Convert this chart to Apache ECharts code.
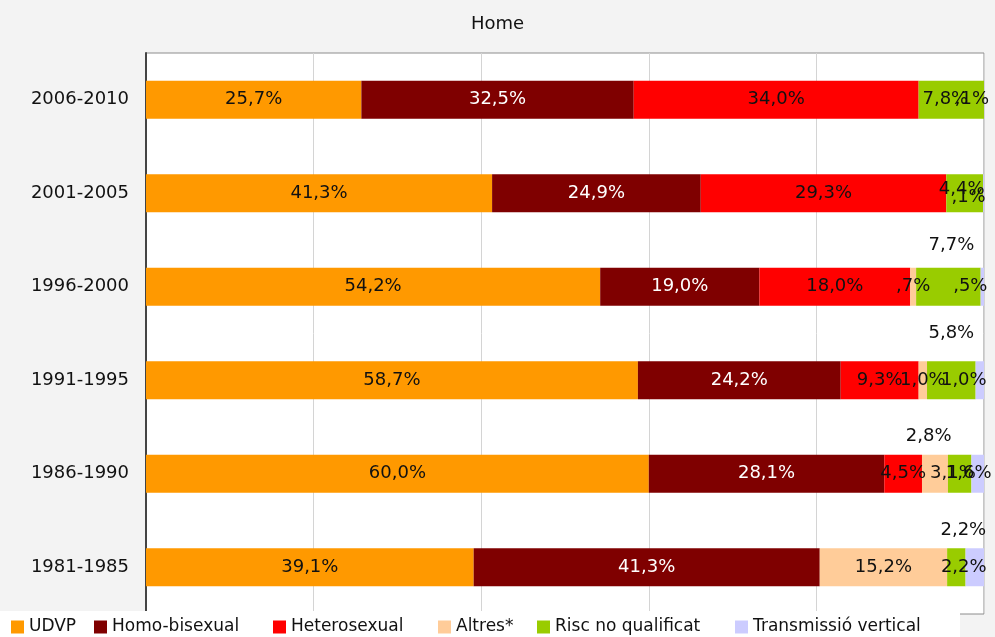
<!DOCTYPE html>
<html>
<head>
<meta charset="utf-8">
<script src="https://cdn.jsdelivr.net/npm/echarts@6/dist/echarts.min.js"></script>
<style>
  html, body { margin: 0; padding: 0; background: #f3f3f3; }
  #chart { width: 995px; height: 637px; }
</style>
</head>
<body>
<div id="chart"></div>
<script>
const categories = ["2006-2010", "2001-2005", "1996-2000", "1991-1995", "1986-1990", "1981-1985"];
const seriesNames = ["UDVP", "Homo-bisexual", "Heterosexual", "Altres*", "Risc no qualificat", "Transmissió vertical"];

const udvp = [25.7, 41.3, 54.2, 58.7, 60.0, 39.1];
const homoBisexual = [32.5, 24.9, 19.0, 24.2, 28.1, 41.3];
const heterosexual = [34.0, 29.3, 18.0, 9.3, 4.5, 0];
const altres = [0, 0, 0.7, 1.0, 3.1, 15.2];
const riscNoQualificat = [7.8, 4.4, 7.7, 5.8, 2.8, 2.2];
const transmissioVertical = [0.1, 0.1, 0.5, 1.0, 1.6, 2.2];

const values = [udvp, homoBisexual, heterosexual, altres, riscNoQualificat, transmissioVertical];
const colors = ["#ff9900", "#7f0000", "#ff0000", "#ffcc99", "#99cc00", "#ccccff"];
const labelColors = ["#111", "#fff", "#111", "#111", "#111", "#111"];

// label nudges, per series and row (Excel placed the small ones oddly)
const labelOffsets = {
  3: { 4: [18, 0] },
  4: { 0: [-6, 0], 1: [-3, -4], 2: [3, -41], 3: [0, -47], 4: [-31, -37], 5: [7, -37] },
  5: { 0: [-12, 0], 1: [-15, 4], 2: [-12, 0], 3: [-16, 0], 4: [-9, 0], 5: [-11, 0] },
};

// legend icon left edges
const legendLefts = [11, 94, 273, 438, 537, 735];

const FONT = "DejaVu Sans";

const fmt = (v) => {
  if (!v) return "";
  let s = v.toFixed(1);
  if (v < 1) s = s.slice(1);
  return s.replace(".", ",") + "%";
};

const series = seriesNames.map((name, si) => ({
  name,
  type: "bar",
  stack: "total",
  barWidth: 38,
  itemStyle: { color: colors[si] },
  label: {
    show: true,
    position: "inside",
    color: labelColors[si],
    fontFamily: FONT,
    fontSize: 18,
    formatter: (p) => fmt(p.value),
  },
  data: values[si].map((v, ri) => {
    const off = labelOffsets[si] && labelOffsets[si][ri];
    return off ? { value: v, label: { offset: off } } : v;
  }),
}));

const legends = seriesNames.map((name, i) => ({
  data: [name],
  left: legendLefts[i],
  top: 618,
  padding: 0,
  itemWidth: 13,
  itemHeight: 13,
  icon: "rect",
  selectedMode: false,
  textStyle: { fontFamily: FONT, fontSize: 17, color: "#111", lineHeight: 18 },
}));

const chart = echarts.init(document.getElementById("chart"));
chart.setOption({
  animation: false,
  backgroundColor: "#f3f3f3",
  title: {
    text: "Home",
    left: "center",
    top: 10,
    textStyle: { fontFamily: FONT, fontSize: 18, fontWeight: "normal", color: "#111" },
  },
  legend: legends,
  graphic: [{
    type: "rect",
    z: 1,
    shape: { x: 0, y: 611, width: 960, height: 26 },
    style: { fill: "#ffffff" },
  }],
  grid: {
    left: 146,
    right: 11,
    top: 53,
    bottom: 23,
    show: true,
    backgroundColor: "#ffffff",
    borderColor: "#8c8c8c",
    borderWidth: 1,
  },
  xAxis: {
    type: "value",
    min: 0,
    max: 100,
    interval: 20,
    axisLabel: { show: false },
    axisLine: { show: false },
    axisTick: { show: false },
    splitLine: { lineStyle: { color: "#d4d4d4" } },
  },
  yAxis: {
    type: "category",
    data: categories,
    inverse: true,
    axisLine: { lineStyle: { color: "#444", width: 2 } },
    axisTick: { length: 6, lineStyle: { color: "#444", width: 1 } },
    axisLabel: { margin: 17, fontFamily: FONT, fontSize: 18, color: "#111" },
  },
  series,
});
</script>
</body>
</html>
